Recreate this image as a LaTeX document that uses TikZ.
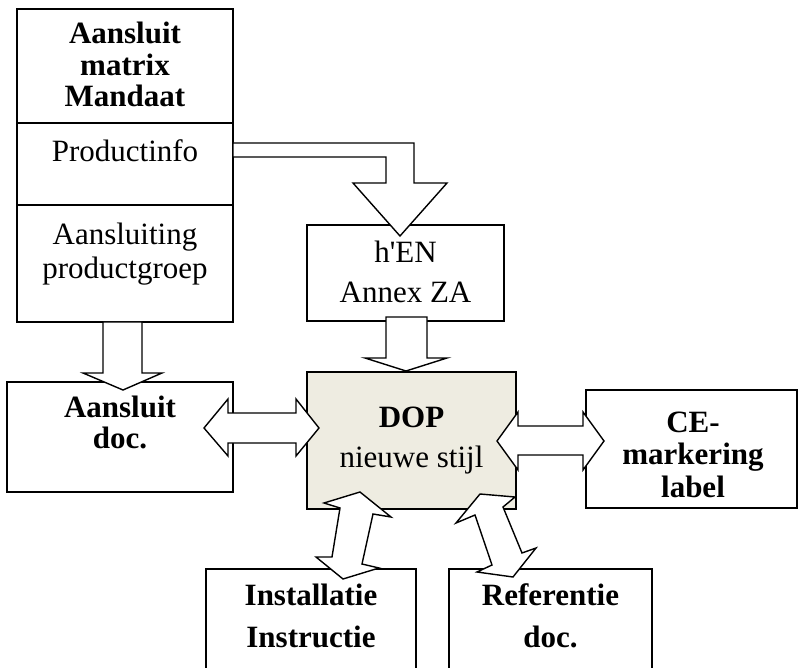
\documentclass[tikz,border=0pt]{standalone}
\usepackage{fontspec}
\setmainfont{Liberation Serif}
\definecolor{dopfill}{RGB}{238,236,225}
\begin{document}
\begin{tikzpicture}[x=1pt,y=-1pt,
  box/.style={draw, line width=1.4pt, fill=white, inner sep=0pt, outer sep=0pt},
  blockarrow/.style={draw, line width=1.4pt, fill=white, line join=miter},
  txt/.style={anchor=base, inner sep=0pt, font=\fontsize{31}{31}\selectfont},
  btxt/.style={anchor=base, inner sep=0pt, font=\fontsize{31}{31}\selectfont\bfseries}]
\useasboundingbox (0,0) rectangle (798,668);

% boxes
\node[box, minimum width=216pt, minimum height=313pt] (top) at (125,165.5) {};
\draw[line width=1.4pt] (top.west |- 0,123) -- (top.east |- 0,123);
\draw[line width=1.4pt] (top.west |- 0,205) -- (top.east |- 0,205);
\node[box, minimum width=197pt, minimum height=96pt] (hen) at (405.5,273) {};
\node[box, minimum width=226pt, minimum height=110pt] (adoc) at (120,437) {};
\node[box, fill=dopfill, minimum width=209pt, minimum height=137pt] (dop) at (411.5,440.5) {};
\node[box, minimum width=211pt, minimum height=118pt] (ce) at (691.5,449) {};
\node[box, minimum width=210pt, minimum height=121pt] (inst) at (311,629.5) {};
\node[box, minimum width=203pt, minimum height=121pt] (ref) at (550.5,629.5) {};

% texts
\node[btxt] (t1) at (125,44) {Aansluit};
\node[btxt] (t2) at (125,75.5) {matrix};
\node[btxt] (t3) at (125,107) {Mandaat};
\node[txt] (t4) at (125,162) {Productinfo};
\node[txt] (t5) at (125,245) {Aansluiting};
\node[txt] (t6) at (125,279) {productgroep};
\node[txt] (t7) at (405.5,263) {h\textquotesingle EN};
\node[txt] (t8) at (405.5,303) {Annex ZA};
\node[btxt] (t9) at (120,417) {Aansluit};
\node[btxt] (t10) at (120,448) {doc.};
\node[btxt] (t11) at (411.5,427) {DOP};
\node[txt] (t12) at (411.5,467.5) {nieuwe stijl};
\node[btxt] (t13) at (693,432) {CE-};
\node[btxt] (t14) at (693,464.5) {markering};
\node[btxt] (t15) at (693,497) {label};
\node[btxt] (t16) at (311,605) {Installatie};
\node[btxt] (t17) at (311,647) {Instructie};
\node[btxt] (t18) at (550.5,605) {Referentie};
\node[btxt] (t19) at (550.5,647) {doc.};

% block arrows
% top box -> Aansluit doc.
\draw[blockarrow] (103,322) -- (142,322) -- (142,373) -- (162,373) -- (123,390)
  -- (83,373) -- (103,373) -- cycle;
% Productinfo -> h'EN (bent)
\draw[blockarrow] (top.east |- 0,143) -- (414,143) -- (414,183) -- (447,183) -- (400,236)
  -- (353,183) -- (386,183) -- (386,157) -- (top.east |- 0,157) -- cycle;
% h'EN -> DOP
\draw[blockarrow] (386,317) -- (427,317) -- (427,358) -- (447,358) -- (406,371)
  -- (365,358) -- (386,358) -- cycle;
% Aansluit doc. <-> DOP
\draw[blockarrow] (204,428) -- (228,399) -- (228,413) -- (296,413) -- (296,399) -- (319,428)
  -- (296,456) -- (296,443) -- (228,443) -- (228,456) -- cycle;
% DOP <-> CE
\draw[blockarrow] (497,441) -- (518,412) -- (518,426) -- (583,426) -- (583,412) -- (604,441)
  -- (583,470) -- (583,455) -- (518,455) -- (518,470) -- cycle;
% DOP <-> Installatie
\draw[blockarrow] (360,492) -- (391,517) -- (373,514) -- (362,564) -- (379,568) -- (343,579)
  -- (316,557) -- (332,557) -- (340,508) -- (324,503) -- cycle;
% DOP <-> Referentie
\draw[blockarrow] (480,494) -- (515,497) -- (503,507) -- (522,553) -- (536,548) -- (513,577)
  -- (477,572) -- (492,565) -- (475,515) -- (456,523) -- cycle;
\end{tikzpicture}
\end{document}
